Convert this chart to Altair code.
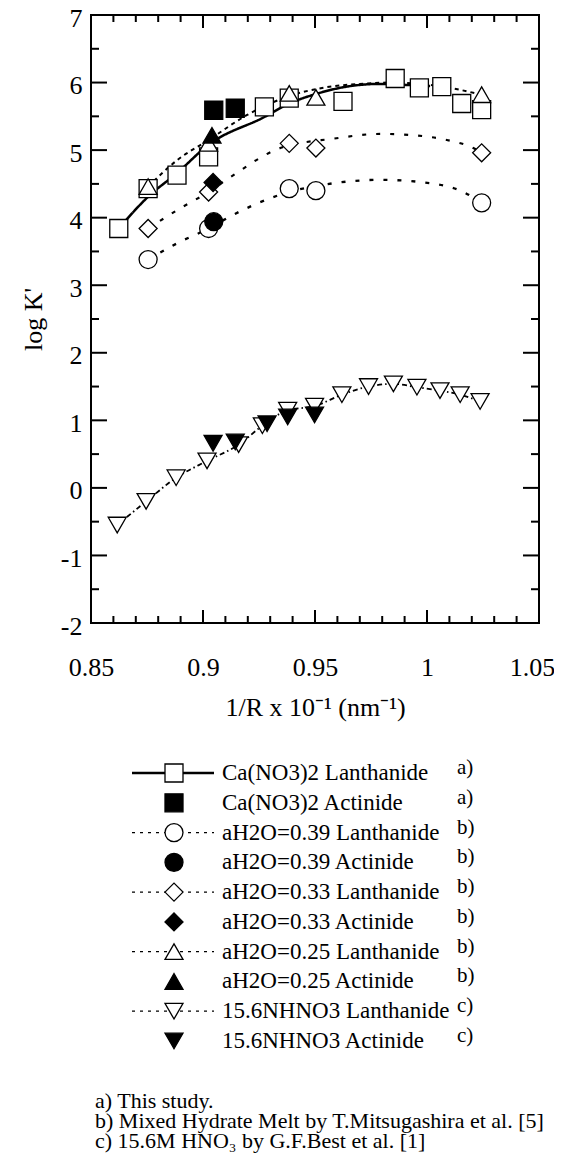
import altair as alt
import pandas as pd

FONT = "Liberation Serif"

# ---------------- series definitions ----------------
series_names = [
    "Ca(NO3)2 Lanthanide", "Ca(NO3)2 Actinide",
    "aH2O=0.39 Lanthanide", "aH2O=0.39 Actinide",
    "aH2O=0.33 Lanthanide", "aH2O=0.33 Actinide",
    "aH2O=0.25 Lanthanide", "aH2O=0.25 Actinide",
    "15.6NHNO3 Lanthanide", "15.6NHNO3 Actinide",
]
series_notes = ["a)", "a)", "b)", "b)", "b)", "b)", "b)", "b)", "c)", "c)"]
series_shapes = ["square", "square", "circle", "circle", "diamond", "diamond",
                 "triangle-up", "triangle-up", "triangle-down", "triangle-down"]
series_fills = ["white", "black"] * 5
legend_line = ["solid", "none", "dash", "none", "dash", "none", "dash", "none", "dash", "none"]

# ---------------- markers ----------------
ca_la_x = [0.8624, 0.8755, 0.8884, 0.9025, 0.9274, 0.9385, 0.9625, 0.9858, 0.9966, 1.0066, 1.0155, 1.0244]
ca_la_y = [3.84, 4.43, 4.63, 4.90, 5.64, 5.77, 5.72, 6.06, 5.92, 5.94, 5.69, 5.60]
ca_ac_x = [0.9048, 0.9144]
ca_ac_y = [5.59, 5.62]

h39_la_x = [0.8755, 0.9025, 0.9385, 0.9504, 1.0244]
h39_la_y = [3.38, 3.84, 4.43, 4.40, 4.22]
h39_ac_x = [0.9048]
h39_ac_y = [3.94]

h33_la_x = [0.8755, 0.9025, 0.9385, 0.9504, 1.0244]
h33_la_y = [3.84, 4.38, 5.10, 5.03, 4.96]
h33_ac_x = [0.9045]
h33_ac_y = [4.52]

h25_la_x = [0.8755, 0.9025, 0.9385, 0.9504, 1.0244]
h25_la_y = [4.46, 5.10, 5.84, 5.78, 5.82]
h25_ac_x = [0.9040]
h25_ac_y = [5.22]

hno3_la_x = [0.8617, 0.8746, 0.8880, 0.9018, 0.9159, 0.9265, 0.9378, 0.9498, 0.9620,
             0.9739, 0.9850, 0.9955, 1.0058, 1.0148, 1.0237]
hno3_la_y = [-0.55, -0.20, 0.15, 0.40, 0.64, 0.92, 1.15, 1.21, 1.38,
             1.50, 1.54, 1.49, 1.44, 1.38, 1.28]
hno3_ac_x = [0.9045, 0.9144, 0.9286, 0.9378, 0.9498]
hno3_ac_y = [0.66, 0.68, 0.95, 1.05, 1.08]

# ---------------- fitted curves ----------------
ca_fit_x = [0.8624, 0.8755, 0.8884, 0.9025, 0.9274, 0.9385, 0.9494, 0.9642, 0.9791, 0.9939, 1.0014]
ca_fit_y = [3.84, 4.31, 4.66, 5.08, 5.49, 5.69, 5.82, 5.94, 5.98, 5.96, 5.95]
h39_fit_x = [0.8755, 0.8884, 0.9025, 0.9122, 0.9345, 0.9583, 0.9791, 1.0014, 1.0162, 1.0244]
h39_fit_y = [3.38, 3.62, 3.84, 4.02, 4.34, 4.51, 4.56, 4.51, 4.38, 4.22]
h33_fit_x = [0.8755, 0.8899, 0.9025, 0.9122, 0.9345, 0.9583, 0.9791, 0.9939, 1.0088, 1.0207, 1.0244]
h33_fit_y = [3.84, 4.14, 4.38, 4.60, 5.03, 5.17, 5.24, 5.22, 5.15, 5.03, 4.96]
h25_fit_x = [0.8755, 0.8884, 0.9025, 0.9197, 0.9385, 0.9550, 0.9700, 0.9850, 1.0000, 1.0120, 1.0244]
h25_fit_y = [4.46, 4.85, 5.15, 5.52, 5.80, 5.93, 5.98, 6.00, 5.97, 5.91, 5.82]
hno3_fit_x = hno3_la_x
hno3_fit_y = hno3_la_y

curve_names = [series_names[0], series_names[2], series_names[4], series_names[6], series_names[8]]
curve_dash = [[1, 0], [4, 10], [4, 10], [4, 4], [5, 3, 1.5, 3]]
curve_width = [2.5, 1.8, 1.8, 1.8, 1.6]

# ---------------- axis ticks ----------------
y_major = [-2, -1, 0, 1, 2, 3, 4, 5, 6, 7]
y_minor = [-1.5, -0.5, 0.5, 1.5, 2.5, 3.5, 4.5, 5.5, 6.5]
x_major = [0.85, 0.9, 0.95, 1.0, 1.05]
x_minor = [0.86, 0.87, 0.88, 0.89, 0.91, 0.92, 0.93, 0.94, 0.96, 0.97, 0.98, 0.99,
           1.01, 1.02, 1.03, 1.04]

footnotes = [
    "a) This study.",
    "b) Mixed Hydrate Melt by T.Mitsugashira et al. [5]",
    "c) 15.6M HNO\u2083 by G.F.Best et al. [1]",
]

W, H = 448, 608

# ---------------- build tables ----------------
marker_sets = [
    (series_names[0], ca_la_x, ca_la_y), (series_names[1], ca_ac_x, ca_ac_y),
    (series_names[2], h39_la_x, h39_la_y), (series_names[3], h39_ac_x, h39_ac_y),
    (series_names[4], h33_la_x, h33_la_y), (series_names[5], h33_ac_x, h33_ac_y),
    (series_names[6], h25_la_x, h25_la_y), (series_names[7], h25_ac_x, h25_ac_y),
    (series_names[8], hno3_la_x, hno3_la_y), (series_names[9], hno3_ac_x, hno3_ac_y),
]
rows = []
for i, (n, xs, ys) in enumerate(marker_sets):
    for xv, yv in zip(xs, ys):
        rows.append({"series": n, "x": xv, "y": yv, "filled": i % 2})
pts = pd.DataFrame(rows)

curve_sets = [(curve_names[0], ca_fit_x, ca_fit_y), (curve_names[1], h39_fit_x, h39_fit_y),
              (curve_names[2], h33_fit_x, h33_fit_y), (curve_names[3], h25_fit_x, h25_fit_y),
              (curve_names[4], hno3_fit_x, hno3_fit_y)]
crow = []
for n, xs, ys in curve_sets:
    for xv, yv in zip(xs, ys):
        crow.append({"series": n, "x": xv, "y": yv})
curves = pd.DataFrame(crow)

leg = pd.DataFrame({"row": list(range(len(series_names))), "series": series_names,
                    "note": series_notes, "line": legend_line})
foot = pd.DataFrame({"line": list(range(len(footnotes))), "text": footnotes})

# ---------------- scales ----------------
xscale = alt.Scale(domain=[0.85, 1.05], nice=False, zero=False)
yscale = alt.Scale(domain=[-2, 7], nice=False, zero=False)
shape_scale = alt.Scale(domain=series_names, range=series_shapes)
fill_scale = alt.Scale(domain=series_names, range=series_fills)

xaxis = alt.Axis(values=x_major, labelExpr="'' + datum.value", grid=False, domain=False,
                 ticks=False, labelPadding=31, labelFontSize=26, labelFont=FONT,
                 labelColor="black", labelFlush=False,
                 labelOffset={"expr": "datum.value > 1.04 ? -7 : 0"},
                 title="1/R x 10\u207b\u00b9 (nm\u207b\u00b9)", titleFont=FONT, titleFontSize=26,
                 titleFontWeight="normal", titleColor="black", titlePadding=14)
yaxis = alt.Axis(values=y_major, labelExpr="'' + datum.value", grid=False, domain=False,
                 ticks=False, labelPadding=9, labelFontSize=26, labelFont=FONT,
                 labelColor="black", labelBaseline="middle", labelOffset=3, labelFlush=False,
                 title="log K'", titleFont=FONT, titleFontSize=26, titleFontWeight="normal",
                 titleColor="black", titlePadding=14)

# ---------------- plot layers ----------------
lines = alt.Chart(curves).mark_line(color="black", interpolate="monotone").encode(
    x=alt.X("x:Q", scale=xscale, axis=xaxis),
    y=alt.Y("y:Q", scale=yscale, axis=yaxis),
    detail="series:N",
    strokeDash=alt.StrokeDash("series:N", scale=alt.Scale(domain=curve_names, range=curve_dash), legend=None),
    strokeWidth=alt.StrokeWidth("series:N", scale=alt.Scale(domain=curve_names, range=curve_width), legend=None),
)


def tick_layer(vals, channel, a, b):
    df = pd.DataFrame({"x": vals, "y": vals})
    base = alt.Chart(df).mark_rule(color="black", strokeWidth=2)
    if channel == "y":
        return base.encode(y=alt.Y("y:Q", scale=yscale, axis=None), x=alt.value(a), x2=alt.value(b))
    return base.encode(x=alt.X("x:Q", scale=xscale, axis=xaxis), y=alt.value(a), y2=alt.value(b))


ticks = [
    tick_layer(y_major, "y", 0, 16), tick_layer(y_minor, "y", 0, 8),
    tick_layer(y_major, "y", W - 16, W), tick_layer(y_minor, "y", W - 8, W),
    tick_layer(x_major, "x", H, H - 13), tick_layer(x_minor, "x", H, H - 7),
    tick_layer(x_major, "x", 0, 13), tick_layer(x_minor, "x", 0, 7),
]


def marker_layer(flag):
    return alt.Chart(pts).transform_filter(alt.datum.filled == flag).mark_point(
        filled=True, stroke="black", strokeWidth=1.3, opacity=1, size=324
    ).encode(
        x=alt.X("x:Q", scale=xscale, axis=xaxis),
        y=alt.Y("y:Q", scale=yscale, axis=None),
        shape=alt.Shape("series:N", scale=shape_scale, legend=None),
        fill=alt.Fill("series:N", scale=fill_scale, legend=None),
    )


# ---------------- legend layers ----------------
ly = alt.Y("row:Q", scale=alt.Scale(domain=[0, 9], range=[758, 1026]), axis=None)
leg_base = alt.Chart(leg)
leg_solid = leg_base.transform_filter(alt.datum.line == "solid").mark_rule(
    color="black", strokeWidth=2.5).encode(y=ly, x=alt.value(41), x2=alt.value(123))
leg_dash = leg_base.transform_filter(alt.datum.line == "dash").mark_rule(
    color="black", strokeWidth=1.3, strokeDash=[3, 5]).encode(y=ly, x=alt.value(41), x2=alt.value(123))
leg_sym = leg_base.mark_point(filled=True, stroke="black", strokeWidth=1.3, opacity=1, size=324).encode(
    y=ly, x=alt.value(83),
    shape=alt.Shape("series:N", scale=shape_scale, legend=None),
    fill=alt.Fill("series:N", scale=fill_scale, legend=None),
)
leg_text = leg_base.mark_text(align="left", baseline="middle", font=FONT, fontSize=23, color="black").encode(
    y=ly, x=alt.value(131), text="series:N")
leg_note = leg_base.mark_text(align="left", baseline="middle", font=FONT, fontSize=21, color="black", dy=-5).encode(
    y=ly, x=alt.value(366), text="note:N")

# ---------------- footnotes ----------------
fy = alt.Y("line:Q", scale=alt.Scale(domain=[0, 2], range=[1093, 1133]), axis=None)
foot_chart = alt.Chart(foot).mark_text(align="left", baseline="alphabetic", font=FONT, fontSize=22,
                                       color="black").encode(y=fy, x=alt.value(4), text="text:N")

chart = alt.layer(
    lines, *ticks, marker_layer(0), marker_layer(1),
    leg_solid, leg_dash, leg_sym, leg_text, leg_note, foot_chart
).resolve_scale(
    y="independent"
).properties(
    width=W, height=H,
    autosize=alt.AutoSizeParams(type="none"),
    padding={"left": 83, "top": 7, "right": 15, "bottom": 534},
).configure(
    font=FONT, background="white"
).configure_view(stroke="black", strokeWidth=2)

chart.save("out.html", embed_options={"renderer": "svg", "actions": False})
